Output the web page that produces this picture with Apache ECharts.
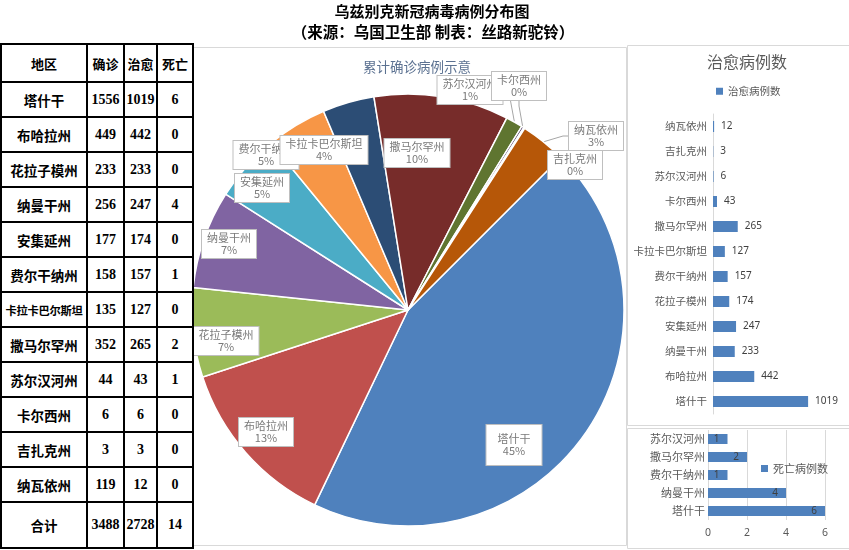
<!DOCTYPE html>
<html><head><meta charset="utf-8">
<script src="https://cdn.jsdelivr.net/npm/echarts@6/dist/echarts.min.js"></script>
<style>
html,body{margin:0;padding:0;background:#fff;width:849px;height:550px;overflow:hidden;}
#chart{position:absolute;left:0;top:0;width:849px;height:550px;}
#tbl{position:absolute;left:0;top:43px;border-collapse:collapse;table-layout:fixed;font-family:"Liberation Serif","Noto Sans CJK SC",serif;font-weight:bold;color:#000;background:#fff;}
#tbl td{border:2px solid #000;text-align:center;vertical-align:middle;padding:0;font-size:14px;white-space:nowrap;overflow:hidden;}
#tbl td.nm{font-family:"Noto Sans CJK SC",sans-serif;font-size:13.5px;}
#tbl td.sm{font-size:11.3px;letter-spacing:-0.3px;}
#tbl td.hd{font-family:"Noto Sans CJK SC",sans-serif;font-size:13px;}
</style></head>
<body>
<div id="chart"></div>
<table id="tbl"></table>
<script>
// ---- data ----
const tableHeader = ['地区', '确诊', '治愈', '死亡'];
const regions = ['塔什干','布哈拉州','花拉子模州','纳曼干州','安集延州','费尔干纳州','卡拉卡巴尔斯坦','撒马尔罕州','苏尔汉河州','卡尔西州','吉扎克州','纳瓦依州'];
const confirmed = [1556, 449, 233, 256, 177, 158, 135, 352, 44, 6, 3, 119];
const recovered = [1019, 442, 233, 247, 174, 157, 127, 265, 43, 6, 3, 12];
const deaths = [6, 0, 0, 4, 0, 1, 0, 2, 1, 0, 0, 0];
const totalRow = ['合计', 3488, 2728, 14];

// recovered bar chart (bottom -> top as shown)
const cureCats = ['塔什干','布哈拉州','纳曼干州','安集延州','花拉子模州','费尔干纳州','卡拉卡巴尔斯坦','撒马尔罕州','卡尔西州','苏尔汉河州','吉扎克州','纳瓦依州'];
const cureVals = [1019, 442, 233, 247, 174, 157, 127, 265, 43, 6, 3, 12];
// death bar chart (bottom -> top)
const deathCats = ['塔什干','纳曼干州','费尔干纳州','撒马尔罕州','苏尔汉河州'];
const deathVals = [6, 4, 1, 2, 1];
const deathTicks = [0, 2, 4, 6];

// ---- table ----
const colW = [86, 37, 33, 36];
const tbl = document.getElementById('tbl');
let html = '<colgroup>' + colW.map(w => '<col style="width:' + w + 'px">').join('') + '</colgroup>';
html += '<tr style="height:38px">' + tableHeader.map(t => '<td class="hd">' + t + '</td>').join('') + '</tr>';
regions.forEach((r, i) => {
  html += '<tr style="height:35px"><td class="nm' + (r.length >= 7 ? ' sm' : '') + '">' + r + '</td><td>' + confirmed[i] + '</td><td>' + recovered[i] + '</td><td>' + deaths[i] + '</td></tr>';
});
html += '<tr style="height:46px"><td class="nm">' + totalRow[0] + '</td><td>' + totalRow[1] + '</td><td>' + totalRow[2] + '</td><td>' + totalRow[3] + '</td></tr>';
tbl.innerHTML = html;

// ---- chart ----
const pieColors = ['#4F81BD','#C0504D','#9BBB59','#8064A2','#4BACC6','#F79646','#2C4D75','#772C2A','#5F7530','#4D3B62','#276A7C','#B65708'];
const labelSpot = {
  '塔什干':[514,445], '布哈拉州':[266,432], '花拉子模州':[226,341], '纳曼干州':[229,244],
  '安集延州':[262,188], '费尔干纳州':[266,155], '卡拉卡巴尔斯坦':[324,150], '撒马尔罕州':[417,153],
  '苏尔汉河州':[470,90], '卡尔西州':[519,86], '吉扎克州':[575,165], '纳瓦依州':[596,136]
};
const withLine = ['苏尔汉河州','卡尔西州','吉扎克州','纳瓦依州'];
const FONT = '"Noto Sans CJK SC", sans-serif';
const NUMFONT = '"Noto Sans", "Noto Sans CJK SC", sans-serif';

const pieData = regions.map((r, i) => {
  const item = { name: r, value: confirmed[i], labelLine: { show: withLine.includes(r) } };
  if (i === 0) item.label = { padding: [8, 11, 7, 11] };
  return item;
});

const chart = echarts.init(document.getElementById('chart'), null, { renderer: 'canvas' });
chart.setOption({
  animation: false,
  textStyle: { fontFamily: FONT },
  graphic: [
    { type: 'rect', shape: { x: 192.5, y: 47.5, width: 434, height: 498 }, style: { fill: 'none', stroke: '#D9D9D9', lineWidth: 1 }, z: -1 },
    { type: 'rect', shape: { x: 627.5, y: 45.5, width: 222, height: 380 }, style: { fill: 'none', stroke: '#D9D9D9', lineWidth: 1 }, z: -1 },
    { type: 'rect', shape: { x: 627.5, y: 428.5, width: 222, height: 120 }, style: { fill: 'none', stroke: '#D9D9D9', lineWidth: 1 }, z: -1 }
  ],
  title: [
    { text: '乌兹别克新冠病毒病例分布图', left: 432, top: 4, textAlign: 'center', padding: 0,
      textStyle: { fontFamily: FONT, fontSize: 15, fontWeight: 'bold', color: '#000' } },
    { text: '（来源：乌国卫生部 制表：丝路新驼铃）', left: 433, top: 24, textAlign: 'center', padding: 0,
      textStyle: { fontFamily: FONT, fontSize: 15.5, fontWeight: 'bold', color: '#000' } },
    { text: '累计确诊病例示意', left: 417, top: 60, textAlign: 'center', padding: 0,
      textStyle: { fontFamily: FONT, fontSize: 13.5, fontWeight: 'normal', color: '#5B7191' } },
    { text: '治愈病例数', left: 747, top: 54, textAlign: 'center', padding: 0,
      textStyle: { fontFamily: FONT, fontSize: 16, fontWeight: 'normal', color: '#595959' } }
  ],
  legend: [
    { data: ['治愈病例数'], left: 716, top: 86, padding: 0, itemWidth: 7, itemHeight: 7, itemGap: 4, icon: 'rect',
      textStyle: { fontFamily: FONT, fontSize: 10.5, color: '#595959' } },
    { data: ['死亡病例数'], left: 761, top: 463, padding: 0, itemWidth: 7, itemHeight: 7, itemGap: 4, icon: 'rect',
      textStyle: { fontFamily: FONT, fontSize: 11, color: '#595959' } }
  ],
  grid: [
    { left: 713, top: 114, width: 112, height: 300 },
    { left: 708, top: 430, width: 117, height: 90 }
  ],
  xAxis: [
    { gridIndex: 0, type: 'value', min: 0, max: 1200, show: false },
    { gridIndex: 1, type: 'value', min: deathTicks[0], max: deathTicks[deathTicks.length - 1], interval: 2,
      axisLine: { show: false }, axisTick: { show: false },
      splitLine: { lineStyle: { color: '#D9D9D9' } },
      axisLabel: { color: '#595959', fontSize: 10.5, fontFamily: NUMFONT, margin: 8 } }
  ],
  yAxis: [
    { gridIndex: 0, type: 'category', data: cureCats,
      axisLine: { lineStyle: { color: '#D9D9D9' } }, axisTick: { show: false },
      axisLabel: { color: '#595959', fontSize: 10.5, fontFamily: FONT, margin: 6 } },
    { gridIndex: 1, type: 'category', data: deathCats,
      axisLine: { show: false }, axisTick: { show: false },
      axisLabel: { color: '#595959', fontSize: 11, fontFamily: FONT, margin: 3 } }
  ],
  series: [
    {
      type: 'pie', name: '累计确诊', center: [408, 310], radius: 216,
      startAngle: 45, clockwise: true, avoidLabelOverlap: false, percentPrecision: 0,
      itemStyle: { borderColor: '#fff', borderWidth: 1.5 },
      color: pieColors,
      label: {
        show: true, position: 'outside', formatter: '{b}\n{d}%',
        color: '#7A7A7A', fontSize: 11, lineHeight: 12.5, fontFamily: FONT,
        backgroundColor: '#fff', borderColor: '#BFBFBF', borderWidth: 1, padding: [2, 5, 1, 5], align: 'center'
      },
      labelLine: { show: false, length: 5, length2: 5, lineStyle: { color: '#A6A6A6', width: 1 } },
      labelLayout: function (p) {
        const name = regions[p.dataIndex];
        const s = labelSpot[name];
        return { x: s[0], y: s[1], align: 'center', verticalAlign: 'middle' };
      },
      data: pieData
    },
    {
      type: 'bar', name: '治愈病例数', xAxisIndex: 0, yAxisIndex: 0, data: cureVals, barWidth: 11,
      itemStyle: { color: '#4F81BD' },
      label: { show: true, position: 'right', distance: 7, color: '#404040', fontSize: 10, fontFamily: NUMFONT }
    },
    {
      type: 'bar', name: '死亡病例数', xAxisIndex: 1, yAxisIndex: 1, data: deathVals, barWidth: 10,
      itemStyle: { color: '#4F81BD' },
      label: { show: true, position: 'insideRight', distance: 8, color: '#404040', fontSize: 10, fontFamily: NUMFONT }
    }
  ]
});
</script>
</body></html>
